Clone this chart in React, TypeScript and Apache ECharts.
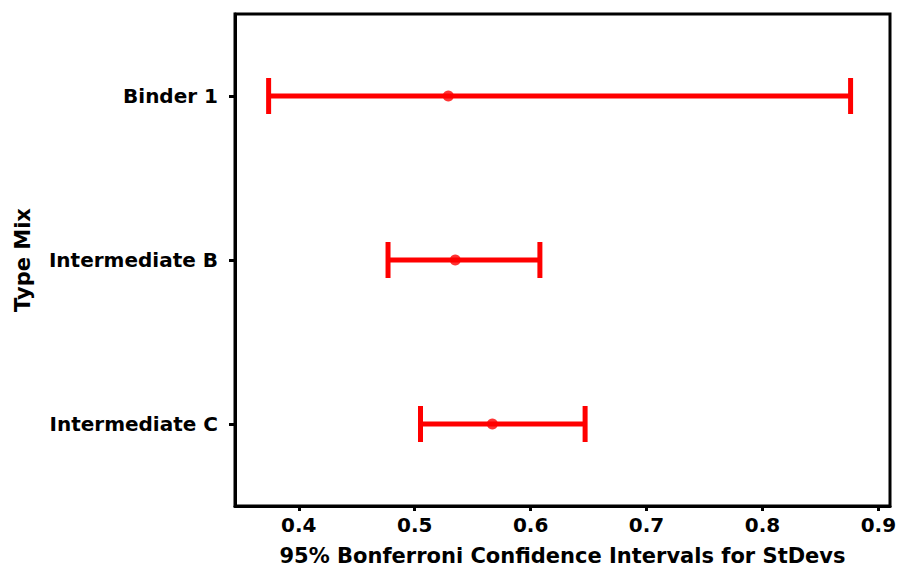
import React, { useEffect, useRef } from "react";
import * as echarts from "echarts";

const categories = ["Intermediate C", "Intermediate B", "Binder 1"];
const lowerValues = [0.505, 0.477, 0.374];
const centerValues = [0.567, 0.535, 0.529];
const upperValues = [0.647, 0.608, 0.876];
const xTickValues = [0.4, 0.5, 0.6, 0.7, 0.8, 0.9];

const FONT = "DejaVu Sans";
const RED = "#ff0000";

export default function App() {
  const ref = useRef<HTMLDivElement>(null);
  useEffect(() => {
    if (!ref.current) return;
    const chart = echarts.init(ref.current, undefined, { renderer: "svg" });
    const intervalData = categories.map((c, i) => [i, lowerValues[i], upperValues[i]]);
    const pointData = categories.map((c, i) => [centerValues[i], i]);
    chart.setOption({
      animation: false,
      backgroundColor: "#ffffff",
      grid: {
        left: 235,
        right: 7,
        top: 14,
        bottom: 67,
        show: true,
        borderColor: "#000",
        borderWidth: 3,
        backgroundColor: "transparent",
        containLabel: false,
        outerBoundsMode: "none",
      },
      xAxis: {
        type: "value",
        min: 0.345,
        max: 0.91,
        splitLine: { show: false },
        axisLine: { show: true, onZero: false, lineStyle: { color: "#000", width: 3 } },
        axisTick: { show: true, length: 5, lineStyle: { color: "#000", width: 3 }, customValues: xTickValues },
        axisLabel: {
          customValues: xTickValues,
          margin: 9,
          color: "#000",
          fontFamily: FONT,
          fontWeight: "bold",
          fontSize: 20,
          formatter: (v: number) => v.toFixed(1),
        },
        name: "95% Bonferroni Confidence Intervals for StDevs",
        nameLocation: "middle",
        nameGap: 39,
        nameTextStyle: { color: "#000", fontFamily: FONT, fontWeight: "bold", fontSize: 21 },
      },
      yAxis: {
        type: "category",
        data: categories,
        boundaryGap: true,
        splitLine: { show: false },
        axisLine: { show: true, lineStyle: { color: "#000", width: 3 } },
        axisTick: { show: true, alignWithLabel: true, length: 6, lineStyle: { color: "#000", width: 3 } },
        axisLabel: {
          margin: 17,
          color: "#000",
          fontFamily: FONT,
          fontWeight: "bold",
          fontSize: 20,
        },
        name: "Type Mix",
        nameLocation: "middle",
        nameGap: 202,
        nameRotate: 90,
        nameTextStyle: { color: "#000", fontFamily: FONT, fontWeight: "bold", fontSize: 21 },
      },
      series: [
        {
          type: "custom",
          data: intervalData,
          encode: { y: 0, x: [1, 2] },
          renderItem: (params: any, api: any) => {
            const cat = api.value(0);
            const lo = api.coord([api.value(1), cat]);
            const hi = api.coord([api.value(2), cat]);
            const half = 18;
            const style = { stroke: RED, lineWidth: 5, fill: "none" };
            return {
              type: "group",
              children: [
                { type: "line", shape: { x1: lo[0], y1: lo[1], x2: hi[0], y2: hi[1] }, style },
                { type: "line", shape: { x1: lo[0], y1: lo[1] - half, x2: lo[0], y2: lo[1] + half }, style },
                { type: "line", shape: { x1: hi[0], y1: hi[1] - half, x2: hi[0], y2: hi[1] + half }, style },
              ],
            };
          },
          z: 2,
        },
        {
          type: "scatter",
          data: pointData,
          symbol: "circle",
          symbolSize: 11,
          itemStyle: { color: RED },
          z: 3,
        },
      ],
    });
    return () => chart.dispose();
  }, []);
  return (
    <div
      ref={ref}
      style={{ position: "fixed", left: 0, top: 0, width: 897, height: 573, background: "#fff" }}
    />
  );
}
